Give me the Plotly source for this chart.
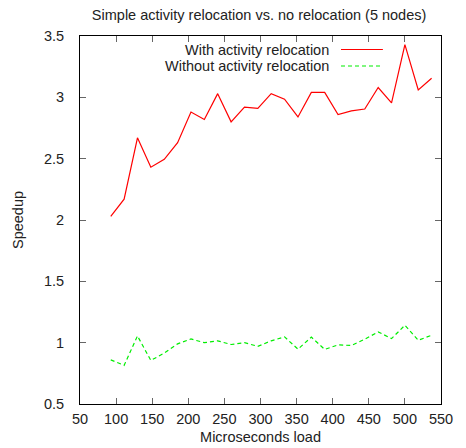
import plotly.graph_objects as go

load_us = [92.6, 111.1, 129.6, 148.1, 166.7, 185.2, 203.7, 222.2, 240.7, 259.3,
           277.8, 296.3, 314.8, 333.3, 351.9, 370.4, 388.9, 407.4, 425.9, 444.4,
           463.0, 481.5, 500.0, 518.5, 537.0]
with_reloc = [2.03, 2.17, 2.67, 2.43, 2.495, 2.63, 2.88, 2.82, 3.03, 2.80,
              2.92, 2.91, 3.03, 2.985, 2.84, 3.04, 3.04, 2.86, 2.89, 2.905,
              3.08, 2.955, 3.43, 3.06, 3.155]
without_reloc = [0.86, 0.815, 1.055, 0.855, 0.915, 0.99, 1.03, 1.0, 1.015, 0.985,
                 1.0, 0.97, 1.015, 1.047, 0.947, 1.045, 0.945, 0.982, 0.977, 1.028,
                 1.088, 1.033, 1.142, 1.02, 1.06]
series_names = ["With activity relocation", "Without activity relocation"]
x_ticks = [50, 100, 150, 200, 250, 300, 350, 400, 450, 500, 550]
y_ticks = [0.5, 1, 1.5, 2, 2.5, 3, 3.5]

FONT = "Liberation Sans, Arial, Helvetica, sans-serif"
FS = 14.5
RED = "#ff0000"
GREEN = "#00ee00"
TXT = "#222"

fig = go.Figure()
fig.add_trace(go.Scatter(x=load_us, y=with_reloc, mode="lines", name=series_names[0],
                         line=dict(color=RED, width=1.2), showlegend=False))
fig.add_trace(go.Scatter(x=load_us, y=without_reloc, mode="lines", name=series_names[1],
                         line=dict(color=GREEN, width=1.2, dash="4px,3px"), showlegend=False))

# gnuplot-style legend: right-aligned text with line sample on the right
for i, (name, col, dash) in enumerate([(series_names[0], RED, "solid"),
                                        (series_names[1], GREEN, "4px,3px")]):
    yp = 0.9633 - i * 0.0448
    fig.add_annotation(x=0.6925, y=yp, xref="paper", yref="paper", text=name,
                       showarrow=False, xanchor="right", yanchor="middle",
                       borderpad=0,
                       font=dict(family=FONT, size=FS, color=TXT))
    fig.add_shape(type="line", xref="paper", yref="paper",
                  x0=0.723, x1=0.839, y0=yp, y1=yp,
                  line=dict(color=col, width=1.2, dash=dash))

axis_common = dict(showline=True, linecolor="black", linewidth=1, mirror="ticks",
                   ticks="inside", ticklen=6, tickcolor="#666", tickwidth=1,
                   showgrid=False, zeroline=False, automargin=False,
                   tickfont=dict(family=FONT, size=FS, color=TXT))

fig.update_layout(
    width=466, height=448,
    margin=dict(l=80, r=25, t=36, b=44),
    paper_bgcolor="white", plot_bgcolor="white",
    title=dict(text="Simple activity relocation vs. no relocation (5 nodes)",
               x=0.556, xanchor="center", y=0.9665, yanchor="middle",
               font=dict(family=FONT, size=FS, color=TXT)),
    xaxis=dict(range=[50, 550], tickvals=x_ticks, ticklabelstandoff=2,
               title=dict(text="Microseconds load", standoff=5,
                          font=dict(family=FONT, size=FS, color=TXT)),
               **axis_common),
    yaxis=dict(range=[0.5, 3.5], tickvals=y_ticks, ticklabelstandoff=12,
               title=dict(text="Speedup", standoff=16,
                          font=dict(family=FONT, size=FS, color=TXT)),
               **axis_common),
)

# remove the default page margin so the figure fills the window exactly
fig.write_html("out.html",
               config={"displayModeBar": False, "staticPlot": True},
               post_script="document.body.style.margin='0';document.body.style.overflow='hidden';")
